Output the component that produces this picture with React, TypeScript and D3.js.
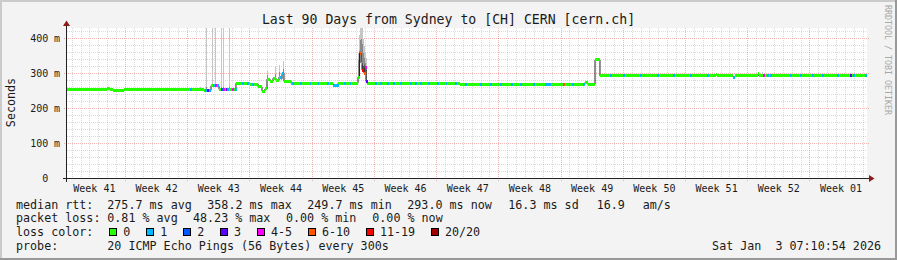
import React from "react";
import * as d3 from "d3";

// ---------- data ----------
const START = new Date(2025, 9, 6, 10, 5, 0);
const SPAN_DAYS = 90;
const SAMPLE_DAYS = 0.125;

const title = "Last 90 Days from Sydney to [CH] CERN [cern.ch]";
const yAxisTitle = "Seconds";
const watermark = "RRDTOOL / TOBI OETIKER";

const weekLabels = ["Week 41", "Week 42", "Week 43", "Week 44", "Week 45", "Week 46", "Week 47", "Week 48", "Week 49", "Week 50", "Week 51", "Week 52", "Week 01"];
const yTickValues = [0, 100, 200, 300, 400];
const yTickNumbers = ["0", "100", "200", "300", "400"];
const yTickUnits = ["", "m", "m", "m", "m"];

// median rtt as steps: day offset from START, value in ms
const medianDays = [0, 4.5, 4.84, 5.17, 6.41, 14.96, 15.41, 16.2, 17.1, 17.66, 19.01, 20.59, 21.49, 21.94, 22.27, 22.5, 22.84, 23.17, 23.51, 23.85, 24.07, 24.19, 24.41, 25.2, 29.92, 30.49, 32.74, 32.91, 33.07, 33.19, 33.3, 33.41, 33.52, 33.64, 33.75, 44.21, 53.21, 58.27, 58.61, 59.4, 59.96, 73.01, 73.13, 74.92, 75.15, 77.74, 77.85];
const medianMs = [253, 256, 254, 251, 253, 255, 252, 265, 255, 253, 272, 270, 262, 250, 256, 284, 278, 286, 281, 290, 285, 300, 278, 272, 267, 272, 290, 358, 330, 310, 325, 301, 317, 277, 272, 270, 269, 274, 269, 339, 293, 296, 293, 290, 293, 300, 293];

// samples with packet loss: day offset, lost pings of 20
const lossDays = [13.84, 15.53, 15.75, 15.97, 16.42, 16.65, 16.87, 17.32, 17.55, 17.89, 18.0, 18.56, 18.9, 19.69, 20.25, 20.81, 23.96, 24.19, 25.31, 26.2, 27.3, 28.2, 29.25, 29.92, 30.15, 30.37, 31.2, 31.8, 32.91, 33.19, 33.41, 33.52, 33.64, 34.65, 35.2, 36.0, 36.7, 37.46, 38.59, 39.2, 39.71, 40.61, 41.62, 42.6, 43.65, 44.8, 46.46, 47.6, 48.71, 50.0, 50.96, 52.4, 53.77, 54.0, 54.22, 55.8, 56.81, 58.05, 61.08, 62.54, 64.45, 66.36, 68.17, 70.08, 71.99, 74.92, 78.3, 78.75, 79.09, 81.34, 82.46, 83.81, 84.94, 86.62, 88.08, 88.42, 89.77];
const lossCounts = [1, 1, 3, 1, 1, 4, 1, 2, 4, 3, 1, 4, 1, 1, 1, 1, 1, 1, 1, 1, 1, 1, 1, 1, 1, 1, 1, 1, 8, 15, 7, 5, 3, 1, 1, 1, 1, 1, 1, 1, 1, 1, 1, 1, 1, 1, 1, 1, 1, 1, 1, 1, 1, 1, 1, 7, 1, 1, 1, 1, 1, 1, 1, 1, 1, 1, 4, 1, 1, 1, 1, 1, 1, 1, 3, 1, 1];

// smoke (ping spread): day offset, highest ping, dense part top
const smokeDays = [14.96, 15.63, 16.31, 16.65, 17.32, 17.55, 18.22, 22.5, 23.4, 23.85, 24.3, 32.74, 32.85, 32.96, 33.07, 33.19, 33.3, 33.41, 33.52, 33.64, 78.19];
const smokeTopMs = [262, 440, 440, 440, 440, 440, 440, 308, 320, 325, 337, 360, 410, 440, 440, 440, 400, 380, 360, 345, 305];
const smokeMidMs = [256, 262, 270, 262, 262, 262, 262, 296, 300, 305, 312, 340, 365, 395, 400, 385, 360, 345, 330, 310, 296];

const lossBinLabels = ["0", "1", "2", "3", "4-5", "6-10", "11-19", "20/20"];
const lossBinMax = [0, 1, 2, 3, 5, 10, 19, 20];
const lossBinColors = ["#26ff00", "#00b8ff", "#0059ff", "#5e00ff", "#ff00ff", "#ff5500", "#ff0000", "#a10000"];

const rttLabel = "median rtt:";
const rttStats = ["275.7 ms avg", "358.2 ms max", "249.7 ms min", "293.0 ms now", "16.3 ms sd", "16.9", "am/s"];
const lossLabel = "packet loss:";
const lossStats = ["0.81 % avg", "48.23 % max", "0.00 % min", "0.00 % now"];
const colorLabel = "loss color:";
const probeLabel = "probe:";
const probeText = "20 ICMP Echo Pings (56 Bytes) every 300s";
const stampText = "Sat Jan\u00a0\u00a03 07:10:54 2026";

// ---------- layout ----------
const W = 897;
const H = 260;
const PL = 67;
const PR = 867;
const PT = 28;
const PB = 178.5;
const MONO = "'DejaVu Sans Mono', monospace";
const TEXT = "#1a1a1a";

const rttX = [107.3, 207.3, 307.3, 407.3, 508.3, 596.7, 642.7];
const lossX = [107.3, 193, 286, 372.3];

export default function App() {
  const dayMs = 864e5;
  const toDate = (d: number) => new Date(START.getTime() + d * dayMs);
  const END = toDate(SPAN_DAYS);
  const x = d3.scaleTime().domain([START, END]).range([PL, PR]);
  const y = d3.scaleLinear().domain([0, 430]).range([PB, PT]).clamp(true);
  const crisp = (v: number) => Math.round(v - 0.5) + 0.5;

  const days = d3.timeDay.range(d3.timeDay.ceil(START), END);
  const weeks = d3.timeMonday.range(d3.timeMonday.floor(START), END);
  const majorWeeks = weeks.filter((w) => w > START);
  const minorY = d3.range(20, 430, 20).filter((v) => v % 100 !== 0);

  const medianAt = (d: number) => {
    const i = Math.max(0, d3.bisectRight(medianDays, d) - 1);
    return medianMs[i];
  };
  const lossColor = (c: number) => lossBinColors[lossBinMax.findIndex((m) => c <= m)];

  const linePts: [number, number][] = medianDays.map((d, i) => [x(toDate(d)), y(medianMs[i])]);
  linePts.push([x(END), y(medianMs[medianMs.length - 1])]);
  const stepLine = d3.line().curve(d3.curveStepAfter)(linePts) || "";

  const bandH = 3;

  const boxX: number[] = [];
  lossBinLabels.reduce((acc, lab) => {
    boxX.push(acc);
    return acc + lab.length * 7.02 + 29.9;
  }, 109);

  return (
    <svg width={W} height={H} style={{ position: "absolute", left: 0, top: 0 }} fontFamily={MONO}>
      {/* background and frame */}
      <rect x={0} y={0} width={W} height={H} fill="#f3f3f3" />
      <rect x={0} y={0} width={W} height={2} fill="#cbcbcb" />
      <rect x={0} y={0} width={2} height={H} fill="#cbcbcb" />
      <rect x={0} y={H - 2} width={W} height={2} fill="#999999" />
      <rect x={W - 2} y={0} width={2} height={H} fill="#999999" />

      {/* canvas */}
      <rect x={PL} y={PT} width={PR - PL} height={PB - PT} fill="#ffffff" />

      {/* minor grid */}
      <g stroke="rgba(140,140,140,0.32)" strokeWidth={1} strokeDasharray="1,1" shapeRendering="crispEdges">
        {days
          .filter((d) => !majorWeeks.some((w) => +w === +d))
          .map((d, i) => (
            <line key={"vd" + i} x1={crisp(x(d))} x2={crisp(x(d))} y1={PT} y2={PB} />
          ))}
        {minorY.map((v) => (
          <line key={"hm" + v} x1={PL} x2={PR} y1={crisp(y(v))} y2={crisp(y(v))} />
        ))}
      </g>
      {/* major grid */}
      <g stroke="rgba(230,90,90,0.45)" strokeWidth={1} strokeDasharray="1,1" shapeRendering="crispEdges">
        {majorWeeks.map((w, i) => (
          <line key={"vw" + i} x1={crisp(x(w))} x2={crisp(x(w))} y1={PT} y2={PB + 2.5} />
        ))}
        {yTickValues
          .filter((v) => v > 0)
          .map((v) => (
            <line key={"hM" + v} x1={PL - 3} x2={PR + 2} y1={crisp(y(v))} y2={crisp(y(v))} />
          ))}
      </g>

      {/* smoke */}
      <g shapeRendering="crispEdges">
        {smokeDays.map((d, i) => {
          const x0 = x(toDate(d));
          const w = Math.max(1, x(toDate(d + SAMPLE_DAYS)) - x0);
          const m = medianAt(d);
          return (
            <g key={"s" + i}>
              <rect x={Math.round(x0)} y={y(smokeTopMs[i])} width={w} height={Math.max(0, y(m) - y(smokeTopMs[i]))} fill="#c6c6c6" />
              <rect x={Math.round(x0)} y={y(smokeMidMs[i])} width={w} height={Math.max(0, y(m) - y(smokeMidMs[i]))} fill="#8a8a8a" />
            </g>
          );
        })}
      </g>

      {/* median thin line */}
      <path d={stepLine} fill="none" stroke="#202020" strokeWidth={1} />

      {/* median colored bands */}
      <g shapeRendering="crispEdges">
        {medianDays.map((d, i) => {
          const x0 = x(toDate(d));
          const x1 = x(toDate(i + 1 < medianDays.length ? medianDays[i + 1] : SPAN_DAYS));
          return (
            <rect key={"b" + i} x={x0} y={y(medianMs[i]) - bandH / 2} width={Math.max(1, x1 - x0)} height={bandH} fill={lossBinColors[0]} />
          );
        })}
        {lossDays.map((d, i) => {
          const x0 = x(toDate(d));
          const w = Math.max(1.5, x(toDate(d + SAMPLE_DAYS * 1.6)) - x0);
          return (
            <rect key={"l" + i} x={x0} y={y(medianAt(d)) - bandH / 2} width={w} height={bandH} fill={lossColor(lossCounts[i])} />
          );
        })}
      </g>

      {/* axes */}
      <g stroke="#222" strokeWidth={1} shapeRendering="crispEdges">
        <line x1={PL - 4} x2={PR + 3} y1={PB} y2={PB} />
        <line x1={PL - 0.5} x2={PL - 0.5} y1={PB + 3.5} y2={PT - 3} />
      </g>
      <path d={`M${PR + 2},${PB - 3.5} L${PR + 7.5},${PB} L${PR + 2},${PB + 3.5} Z`} fill="#8b1a1a" />
      <path d={`M${PL - 4},${PT - 2} L${PL - 0.5},${PT - 7.5} L${PL + 3},${PT - 2} Z`} fill="#8b1a1a" />

      {/* y tick labels */}
      <g fontSize={10} fill={TEXT}>
        {yTickValues.map((v, i) => (
          <g key={"yt" + v}>
            <text x={48.3} y={y(v) + 3.8} textAnchor="end">
              {yTickNumbers[i]}
            </text>
            {yTickUnits[i] && (
              <text x={54} y={y(v) + 3.8}>
                {yTickUnits[i]}
              </text>
            )}
          </g>
        ))}
      </g>

      {/* x week labels */}
      <g fontSize={10} fill={TEXT} textAnchor="middle">
        {weeks.map((w, i) => (
          <text key={"wl" + i} x={x(new Date(+w + 3.5 * dayMs))} y={191.5}>
            {weekLabels[i]}
          </text>
        ))}
      </g>

      {/* titles */}
      <text x={448.5} y={23.5} textAnchor="middle" fontSize={13.2} fill={TEXT}>
        {title}
      </text>
      <text transform={`translate(15,102.5) rotate(-90)`} textAnchor="middle" fontSize={11.7} fill={TEXT}>
        {yAxisTitle}
      </text>
      <text transform={`translate(884.5,5) rotate(90)`} fontSize={8.3} fill="#a8a8a8">
        {watermark}
      </text>

      {/* legend */}
      <g fontSize={11.7} fill={TEXT}>
        <text x={16} y={208.5}>{rttLabel}</text>
        {rttStats.map((s, i) => (
          <text key={"r" + i} x={rttX[i]} y={208.5}>{s}</text>
        ))}
        <text x={16} y={222.2}>{lossLabel}</text>
        {lossStats.map((s, i) => (
          <text key={"p" + i} x={lossX[i]} y={222.2}>{s}</text>
        ))}
        <text x={16} y={236}>{colorLabel}</text>
        {lossBinLabels.map((lab, i) => (
          <g key={"lg" + i}>
            <rect x={Math.round(boxX[i]) + 0.5} y={228.5} width={7} height={7} fill={lossBinColors[i]} stroke="#000" strokeWidth={1} />
            <text x={boxX[i] + 14.3} y={236}>{lab}</text>
          </g>
        ))}
        <text x={16} y={249.7}>{probeLabel}</text>
        <text x={107.3} y={249.7}>{probeText}</text>
        <text x={881} y={249.7} textAnchor="end">{stampText}</text>
      </g>
    </svg>
  );
}
